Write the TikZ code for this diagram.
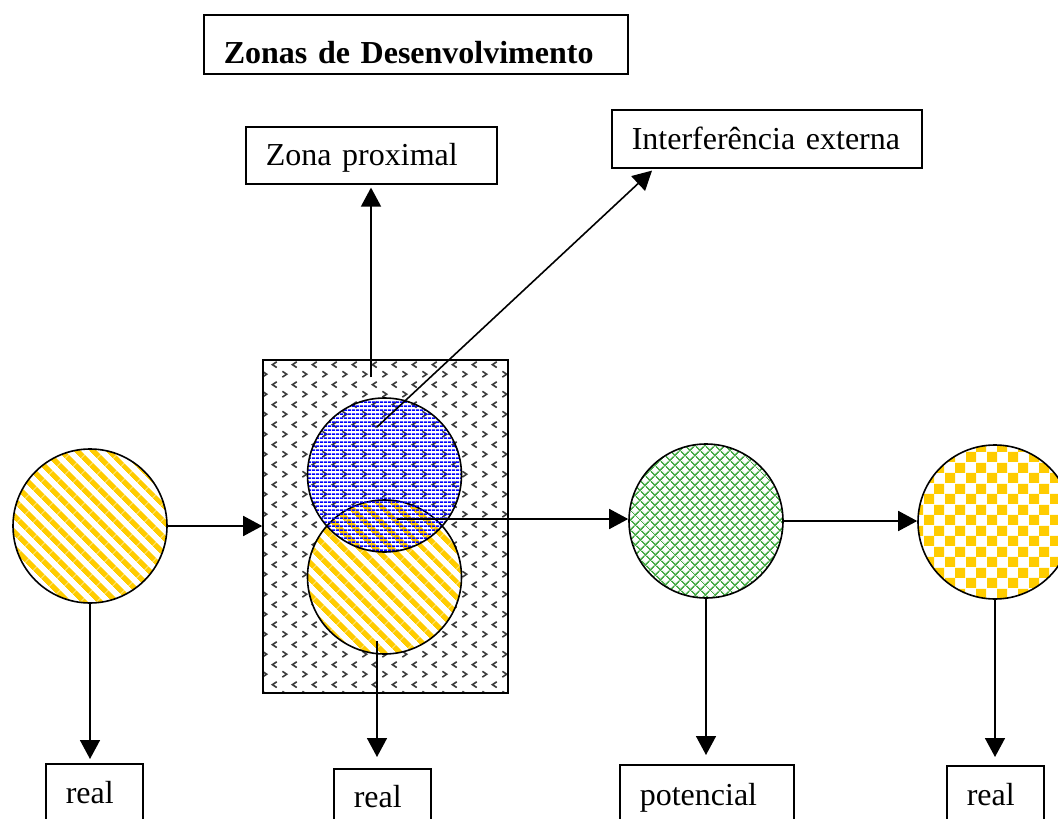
\documentclass[tikz,border=0pt]{standalone}
\usepackage{fontspec}
\setmainfont{Liberation Serif}
\usetikzlibrary{arrows.meta,patterns.meta}

\definecolor{ouro}{RGB}{255,204,0}
\definecolor{verdeclaro}{RGB}{70,170,70}
\definecolor{pontos}{RGB}{60,60,60}

\tikzdeclarepattern{
  name=listras,
  bounding box={(0pt,0pt) and (11pt,11pt)},
  tile size={(11pt,11pt)},
  tile transformation={rotate=-45},
  code={\fill (0pt,0pt) rectangle (11pt,5.5pt);}
}
\tikzdeclarepattern{
  name=linhas,
  bounding box={(0pt,0pt) and (4pt,4pt)},
  tile size={(4pt,4pt)},
  code={\fill (0pt,0pt) rectangle (4pt,2pt);}
}
\tikzdeclarepattern{
  name=grade,
  bounding box={(0pt,0pt) and (7.5pt,7.5pt)},
  tile size={(7.5pt,7.5pt)},
  tile transformation={rotate=45},
  code={\fill (0pt,0pt) rectangle (7.5pt,1.8pt);
        \fill (0pt,0pt) rectangle (1.8pt,7.5pt);}
}
\tikzdeclarepattern{
  name=xadrez,
  bounding box={(0pt,0pt) and (21pt,21pt)},
  tile size={(21pt,21pt)},
  code={\fill (0pt,0pt) rectangle (10.5pt,10.5pt);
        \fill (10.5pt,10.5pt) rectangle (21pt,21pt);}
}
\tikzdeclarepattern{
  name=divisas,
  bounding box={(0pt,0pt) and (20pt,20pt)},
  tile size={(20pt,20pt)},
  code={\draw[line width=1.7pt] (2.5pt,2pt) -- (7pt,5pt) -- (2.5pt,8pt);
        \draw[line width=1.7pt] (17.5pt,12pt) -- (13pt,15pt) -- (17.5pt,18pt);}
}

\begin{document}
\begin{tikzpicture}[x=1pt,y=-1pt,
caixa/.style={draw,line width=1.6pt,anchor=north west,inner xsep=20pt,inner ysep=0pt,
  align=left,font=\fontsize{32}{38}\selectfont},
bola/.style={circle,draw,line width=1.6pt,minimum size=154pt,inner sep=0pt},
seta/.style={line width=1.6pt,-{Triangle[length=19pt,width=20pt]}}
]
\useasboundingbox (0,0) rectangle (1058,819);

\node[caixa,font=\fontsize{32}{38}\selectfont\bfseries,text width=384pt,text height=49pt,text depth=10pt] (titulo) at (203,14) {Zonas de Desenvolvimento};
\node[caixa,text width=211pt,text height=39pt,text depth=18pt] (proximal) at (245,126) {Zona proximal};
\node[caixa,text width=270pt,text height=40pt,text depth=18pt] (externa) at (611,109) {Interferência externa};

\node[caixa,text width=57pt,text height=40pt,text depth=30pt] (real1) at (45,763) {real};
\node[caixa,text width=57pt,text height=39pt,text depth=30pt] (real2) at (333,768) {real};
\node[caixa,text width=134pt,text height=41pt,text depth=30pt] (potencial) at (619,764) {potencial};
\node[caixa,text width=57pt,text height=40pt,text depth=30pt] (real3) at (946,765) {real};

\node[draw,line width=1.6pt,minimum width=245pt,minimum height=333pt,pattern=divisas,pattern color=pontos] (campo) at (385.5,526.5) {};

\node[bola,pattern=listras,pattern color=ouro] (inicial) at (90,526) {};
\node[bola,preaction={fill=white},pattern=listras,pattern color=ouro] (atual) at (384.5,577) {};
\node[bola,pattern=linhas,pattern color=blue] (zona) at (384.5,475) {};
\node[bola,pattern=grade,pattern color=verdeclaro] (verde) at (706,521) {};
\node[bola,pattern=xadrez,pattern color=ouro] (final) at (995,522) {};

\coordinate (a) at (371,377);
\coordinate (b) at (377,427);
\coordinate (c) at (397,519);
\coordinate (d) at (377,641);

\draw[seta,shorten >=3pt] (a) -- (a |- proximal.south);
\draw[seta] (b) -- ([xshift=41pt,yshift=-2pt]externa.south west);
\draw[seta] (inicial.east) -- (inicial.east -| campo.west);
\draw[seta] (c) -- (c -| verde.west);
\draw[seta] (verde.east) -- (verde.east -| final.west);

\draw[seta,shorten >=4pt] (inicial.south) -- (inicial.south |- real1.north);
\draw[seta,shorten >=11pt] (d) -- (d |- real2.north);
\draw[seta,shorten >=9pt] (verde.south) -- (verde.south |- potencial.north);
\draw[seta,shorten >=8pt] (final.south) -- (final.south |- real3.north);
\end{tikzpicture}
\end{document}
